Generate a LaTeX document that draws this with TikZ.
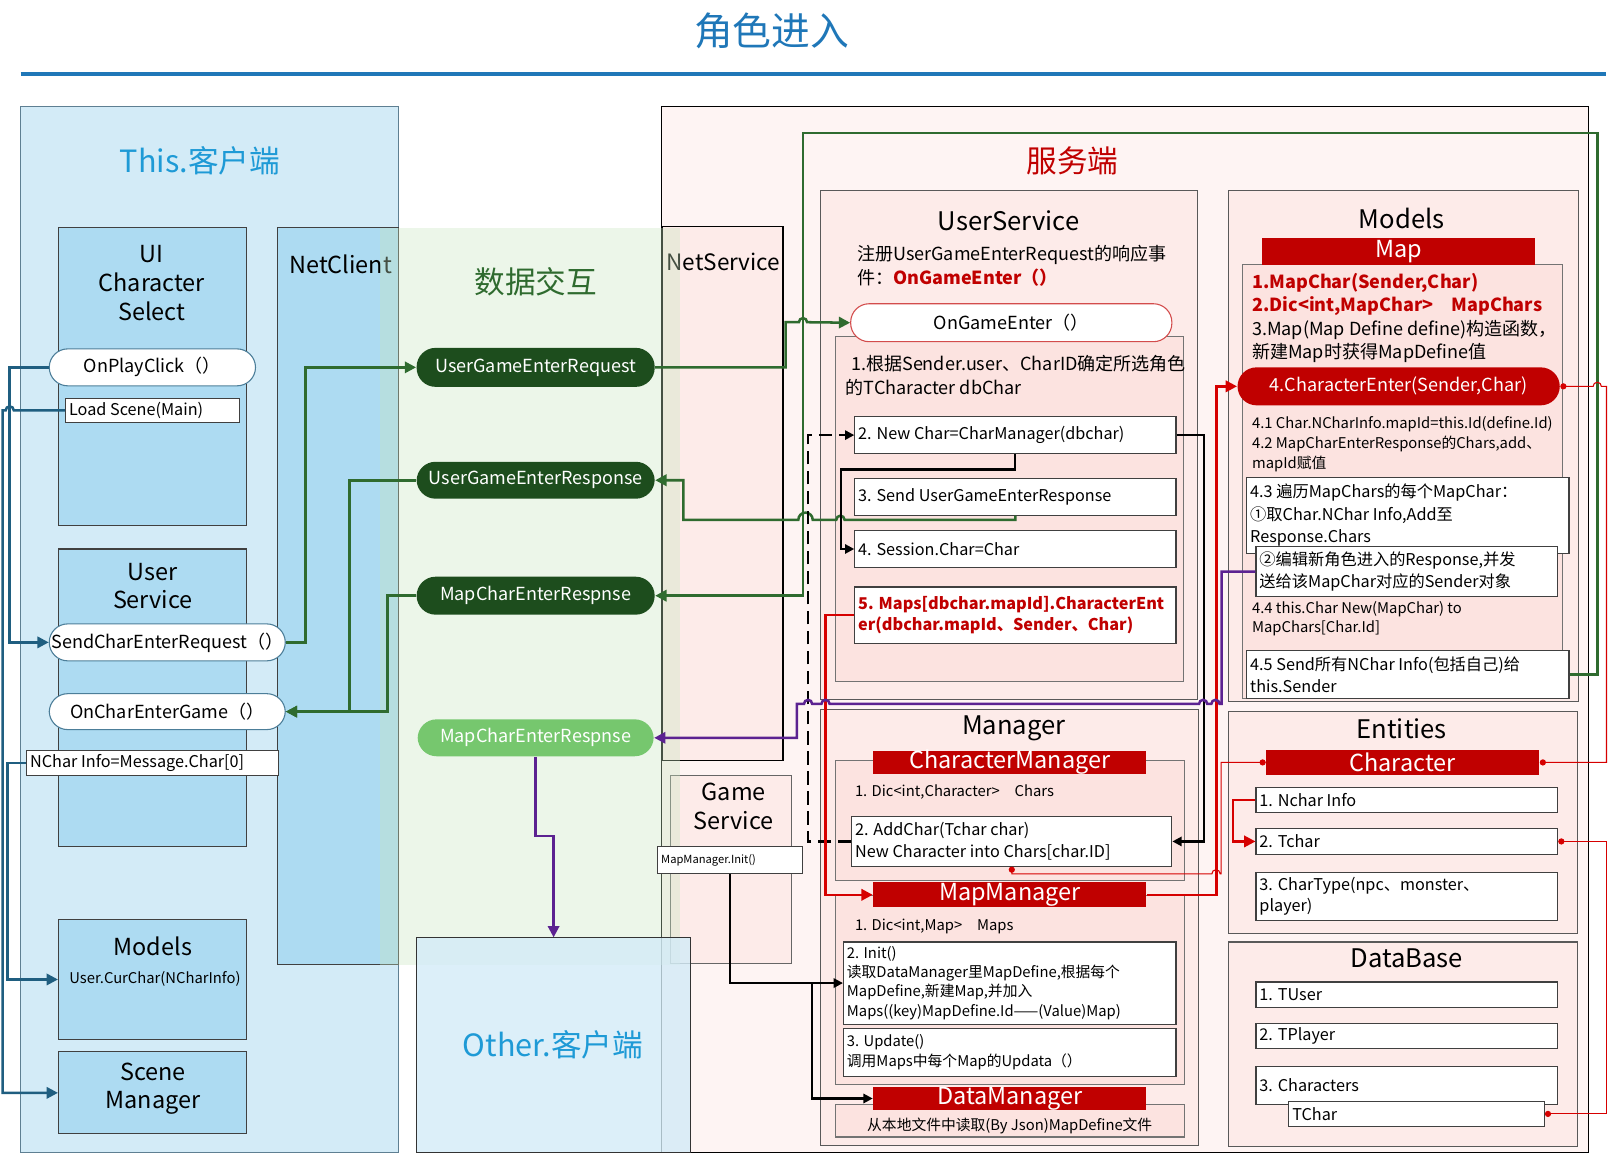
\documentclass[tikz,border=0pt]{standalone}
\usepackage{fontspec}
\setmainfont{Noto Sans CJK SC}
\usepackage{tikz}
\usetikzlibrary{arrows.meta, fit}
\usepackage{xcolor}

\definecolor{titleBlue}{HTML}{1F77B8}
\definecolor{cliPanel}{HTML}{D3EBF7}
\definecolor{cliBox}{HTML}{ADDBF2}
\definecolor{cliBorder}{HTML}{5E7F92}
\definecolor{cliTitle}{HTML}{1E9AD6}
\definecolor{cliLine}{HTML}{1F5E80}
\definecolor{srvPanel}{HTML}{FEF4F3}
\definecolor{srvBox}{HTML}{FDEBE9}
\definecolor{srvInner}{HTML}{FCE3E0}
\definecolor{srvRed}{HTML}{C00000}
\definecolor{lineRed}{HTML}{D60000}
\definecolor{msgDark}{HTML}{1D4D1D}
\definecolor{msgLight}{HTML}{76C76E}
\definecolor{msgLine}{HTML}{2F6B2F}
\definecolor{netGreen}{HTML}{C8E6C0}
\definecolor{bcast}{HTML}{5C2291}

\newcommand{\fsTitle}{\fontsize{21.5pt}{24pt}\selectfont}
\newcommand{\fsBig}{\fontsize{17pt}{20pt}\selectfont}
\newcommand{\fsHead}{\fontsize{14.2pt}{17pt}\selectfont}
\newcommand{\fsMid}{\fontsize{13pt}{15.9pt}\selectfont}
\newcommand{\fsPill}{\fontsize{10pt}{12pt}\selectfont}
\newcommand{\fsCode}{\fontsize{9pt}{12pt}\selectfont}
\newcommand{\fsSmall}{\fontsize{8.2pt}{10.6pt}\selectfont}
\newcommand{\fsTiny}{\fontsize{6.2pt}{7pt}\selectfont}

\begin{document}
\begin{tikzpicture}[
    x=0.02cm,y=-0.02cm,>={Triangle[length=2.2mm,width=2.2mm]},
    box/.style={draw,inner sep=0pt,line width=0.6pt},
    clibox/.style={box,draw=black!75,fill=cliBox},
    srvbox/.style={box,draw=black!55,fill=srvBox},
    codebox/.style={box,draw=black!75,fill=white},
    pill/.style={box,fill=white,rounded corners=0.36cm},
    msgpill/.style={box,draw=none,fill=msgDark,rounded corners=0.37cm},
    redbar/.style={box,draw=none,fill=srvRed},
    pilltext/.style={label={[font=\fsPill]center:{#1}}},
    msgtext/.style={label={[font=\fsPill,text=white]center:{#1}}},
    bartext/.style={label={[font=\fsMid,text=white]center:{#1}}},
    codetext/.style={anchor=west,align=left,font=\fsCode,inner sep=2pt},
    clilink/.style={->,cliLine,line width=1.4pt},
    msglink/.style={->,msgLine,line width=1.4pt},
    calllink/.style={-{Triangle[length=1.8mm,width=1.8mm]},black,line width=1.2pt},
    redlink/.style={->,lineRed,line width=1.4pt},
    reflink/.style={{Circle[length=1.2mm]}-{Circle[length=1.2mm]},lineRed,line width=0.6pt},
    bcastlink/.style={->,bcast,line width=1.4pt}
]
\useasboundingbox (0,0) rectangle (1568,1125);
% Title and rule.
\node[font=\fsTitle,text=titleBlue] (title) at (752,30) {角色进入};
\draw[titleBlue,line width=2.2pt] (20,72) -- (1565,72);

% This client.
\node[box,draw=cliBorder,fill=cliPanel,fit={(20,104) (388,1123)}] (thisCli) {};
\node[font=\fsBig,text=cliTitle] at (195,157) {This.客户端};
\node[clibox,fit={(57,222) (240,512)}] (uiSel) {};
\node[align=center,font=\fsMid] at (148,276) {UI\\Character\\Select};
\node[clibox,fit={(270,222) (388,940)}] (netClient) {};
\node[font=\fsMid] at (332,258) {NetClient};
\node[clibox,fit={(57,535) (240,825)}] (cliUser) {};
\node[align=center,font=\fsMid] at (149,571) {User\\Service};
\node[clibox,fit={(57,896) (240,1013)}] (cliModels) {};
\node[font=\fsMid] at (149,922) {Models};
\node[font=\fsSmall] at (151,954) {User.CurChar(NCharInfo)};
\node[clibox,fit={(57,1025) (240,1105)}] (sceneMgr) {};
\node[align=center,font=\fsMid] at (149,1061) {Scene\\Manager};
\node[pill,draw=cliLine!80,fit={(48,340) (249,376)},pilltext=OnPlayClick（）] (playClick) {};
\node[codebox,fit={(64,388) (233,412)}] (loadScene) {};
\node[codetext] at (loadScene.west) {Load Scene(Main)};
\node[pill,draw=cliLine!80,fit={(48,608) (278,644)},pilltext=SendCharEnterRequest（）] (sendReq) {};
\node[pill,draw=cliLine!80,fit={(48,676) (278,711)},pilltext=OnCharEnterGame（）] (charEnterGame) {};
\node[codebox,fit={(26,731) (271,756)}] (ncharBox) {};
\node[codetext] at (ncharBox.west) {NChar Info=Message.Char[0]};

% Server panel, net service, game service.
\node[box,draw=black,fill=srvPanel,fit={(645,104) (1548,1123)}] (srvPanel) {};
\node[srvbox,draw=black,fit={(646,221) (763,741)}] (netService) {};
\node[font=\fontsize{12.5pt}{15pt}\selectfont] at (705,255) {NetService};
\node[srvbox,draw=black!60,fit={(653,756) (771,939)}] (gameService) {};
\node[align=center,font=\fsMid] at (715,786) {Game\\Service};

% Message area.
\node[inner sep=0pt,fill=netGreen,fill opacity=0.35,fit={(370,222) (663,940)}] (netArea) {};
\node[font=\fsBig,text=msgLine] at (522,275) {数据交互};
\node[msgpill,fit={(406,339) (638,377)},msgtext=UserGameEnterRequest] (ugeReq) {};
\node[msgpill,fit={(406,450) (638,486)},msgtext=UserGameEnterResponse] (ugeResp) {};
\node[msgpill,fit={(406,562) (638,599)},msgtext=MapCharEnterRespnse] (mceResp) {};
\node[msgpill,fill=msgLight,fit={(407,701) (637,737)},msgtext=MapCharEnterRespnse] (mceLight) {};

% Other client.
\node[box,draw=black!80,fill=cliPanel,fill opacity=0.8,fit={(406,914) (673,1123)}] (otherCli) {};
\node[font=\fsBig,text=cliTitle] at (539,1018) {Other.客户端};
\node[codebox,fit={(641,825) (782,851)}] (mapInit) {};
\node[codetext,font=\fsTiny] at (mapInit.west) {MapManager.Init()};

\node[font=\fsBig,text=srvRed] at (1045,157) {服务端};

% UserService.
\node[srvbox,draw=black!65,fit={(800,186) (1167,682)}] (userSvc) {};
\node[font=\fsHead] at (983,215) {UserService};
\node[anchor=west,align=left,font=\fontsize{10pt}{13.6pt}\selectfont] at (829,259)
    {注册UserGameEnterRequest的响应事\\件：\textcolor{srvRed}{\bfseries OnGameEnter（）}};
\node[srvbox,fill=srvInner,fit={(814,328) (1153,664)}] (gameEnterBody) {};
\node[pill,draw=srvRed!70,fit={(829,296) (1142,333)},pilltext=OnGameEnter（）] (onGameEnter) {};
\node[anchor=west,align=left,font=\fontsize{10pt}{13pt}\selectfont] at (818,366)
    {\hspace{3pt}1.根据Sender.user、CharID确定所选角色\\的TCharacter dbChar};
\node[codebox,fit={(833,406) (1146,442)}] (newChar) {};
\node[codetext] at (newChar.west) {2. New Char=CharManager(dbchar)};
\node[codebox,fit={(833,466) (1146,502)}] (sendResp) {};
\node[codetext] at (sendResp.west) {3. Send UserGameEnterResponse};
\node[codebox,fit={(833,517) (1146,553)}] (setSession) {};
\node[codetext] at (setSession.west) {4. Session.Char=Char};
\node[codebox,fit={(833,572) (1146,627)}] (mapsEnter) {};
\node[codetext,text=srvRed,font=\fsCode\bfseries] at (mapsEnter.west)
    {5. Maps[dbchar.mapId].CharacterEnt\\er(dbchar.mapId、Sender、Char)};

% Models.
\node[srvbox,draw=black!65,fit={(1197,186) (1538,684)}] (srvModels) {};
\node[font=\fsHead] at (1366,213) {Models};
\node[srvbox,fill=srvInner,fit={(1211,258) (1523,681)}] (mapBody) {};
\node[redbar,fit={(1230,232) (1496,258)},bartext=Map] (mapBar) {};
\node[anchor=west,align=left,font=\fontsize{10pt}{12.9pt}\selectfont] at (1214,310)
    {\textcolor{srvRed}{\bfseries 1.MapChar(Sender,Char)}\\
     \textcolor{srvRed}{\bfseries 2.Dic<int,MapChar>\quad MapChars}\\
     3.Map(Map Define define)构造函数，\\新建Map时获得MapDefine值};
\node[pill,draw=none,fill=srvRed,rounded corners=0.37cm,fit={(1206,358) (1520,395)},
    msgtext={4.CharacterEnter(Sender,Char)}] (charEnter) {};
\node[anchor=west,align=left,font=\fontsize{8.2pt}{11pt}\selectfont] at (1214,433)
    {4.1 Char.NCharInfo.mapId=this.Id(define.Id)\\4.2 MapCharEnterResponse的Chars,add、\\mapId赋值};
\node[codebox,fit={(1215,465) (1529,539)}] (loopBox) {};
\node[codetext,font=\fontsize{9pt}{12.5pt}\selectfont] at (loopBox.west)
    {4.3 遍历MapChars的每个MapChar：\\①取Char.NChar Info,Add至\\Response.Chars};
\node[codebox,fit={(1224,533) (1518,581)}] (editResp) {};
\node[codetext,font=\fontsize{9pt}{11.9pt}\selectfont] at (editResp.west)
    {②编辑新角色进入的Response,并发\\送给该MapChar对应的Sender对象};
\node[anchor=west,align=left,font=\fontsize{8.2pt}{10.2pt}\selectfont] at (1214,603)
    {4.4 this.Char New(MapChar) to\\MapChars[Char.Id]};
\node[codebox,fit={(1215,634) (1529,681)}] (sendAll) {};
\node[codetext] at (sendAll.west) {4.5 Send所有NChar Info(包括自己)给\\this.Sender};

% Manager.
\node[srvbox,draw=black!65,fit={(800,691) (1168,1116)}] (manager) {};
\node[font=\fsHead] at (988,710) {Manager};
\node[srvbox,fill=srvInner,fit={(814,741) (1154,858)}] (charMgrBody) {};
\node[redbar,fit={(851,732) (1117,754)},bartext=CharacterManager] (charMgrBar) {};
\node[anchor=west,font=\fsSmall] at (827,772) {1. Dic<int,Character>\quad Chars};
\node[codebox,fit={(830,796) (1142,844)}] (addChar) {};
\node[codetext] at (addChar.west) {2. AddChar(Tchar char)\\New Character into Chars[char.ID]};
\node[srvbox,fill=srvInner,fit={(814,873) (1154,1057)}] (mapMgrBody) {};
\node[redbar,fit={(851,860) (1117,884)},bartext=MapManager] (mapMgr) {};
\node[anchor=west,font=\fsSmall] at (827,903) {1. Dic<int,Map>\quad Maps};
\node[codebox,fit={(822,918) (1146,998)}] (initBox) {};
\node[codetext,font=\fsSmall] at (initBox.west)
    {2. Init()\\读取DataManager里MapDefine,根据每个\\MapDefine,新建Map,并加入\\Maps((key)MapDefine.Id——(Value)Map)};
\node[codebox,fit={(822,1002) (1146,1049)}] (updateBox) {};
\node[codetext,font=\fontsize{8.2pt}{11.3pt}\selectfont] at (updateBox.west)
    {3. Update()\\调用Maps中每个Map的Updata（）};
\node[srvbox,fill=srvInner,fit={(814,1076) (1154,1108)}] (dataMgrBody) {};
\node[redbar,fit={(851,1059) (1117,1082)},bartext=DataManager] (dataMgr) {};
\node[font=\fsSmall] at (984,1097) {从本地文件中读取(By Json)MapDefine文件};

% Entities and DataBase.
\node[srvbox,draw=black!65,fit={(1197,693) (1537,910)}] (entities) {};
\node[font=\fsHead] at (1366,710) {Entities};
\node[redbar,fit={(1234,731) (1500,755)},bartext=Character] (charBar) {};
\node[codebox,fit={(1224,767) (1518,792)}] (ncharInfo) {};
\node[codetext] at (ncharInfo.west) {1. Nchar Info};
\node[codebox,fit={(1224,807) (1518,833)}] (tcharBox) {};
\node[codetext] at (tcharBox.west) {2. Tchar};
\node[codebox,fit={(1224,850) (1518,897)}] (charType) {};
\node[codetext] at (charType.west) {3. CharType(npc、monster、\\player)};
\node[srvbox,draw=black!65,fit={(1197,918) (1537,1117)}] (database) {};
\node[font=\fsHead] at (1371,934) {DataBase};
\node[codebox,fit={(1224,957) (1518,982)}] (tUser) {};
\node[codetext] at (tUser.west) {1. TUser};
\node[codebox,fit={(1224,997) (1518,1022)}] (tPlayer) {};
\node[codetext] at (tPlayer.west) {2. TPlayer};
\node[codebox,fit={(1224,1039) (1518,1076)}] (tChars) {};
\node[codetext] at (tChars.west) {3. Characters};
\node[codebox,fit={(1256,1073) (1505,1098)}] (tCharDb) {};
\node[codetext] at (tCharDb.west) {TChar};

% Client side links.
\draw[clilink] (playClick.west) -- ++(-38,0) |- (sendReq.west);
\draw[clilink] (loadScene.west) -- ++(-50,0) arc[start angle=0,end angle=-180,radius=4]
    -- ++(-3,0) |- (sceneMgr.west);
\draw[clilink] (ncharBox.west) -- ++(-18,0) |- (cliModels.west);

% Message links.
\draw[msglink] (sendReq.east) -- ++(19,0) |- (ugeReq.west);
\draw[msglink] (ugeResp.west) -- ++(-65,0) |- (charEnterGame.east);
\draw[msglink] (mceResp.west) -- ++(-28,0) |- (charEnterGame.east);
\draw[msglink] (ugeReq.east) -- ++(127,0) -- ++(0,-44) -- ++(13,0)
    arc[start angle=180,end angle=360,radius=4] -- (onGameEnter.west);
\draw[msglink] (sendResp.south) -- ++(0,4) -- ++(-166.5,0) arc[start angle=0,end angle=-180,radius=4]
    -- ++(-23,0) arc[start angle=0,end angle=-180,radius=7] -- ++(-112,0) |- (ugeResp.east);
\draw[msglink] (sendAll.east) -- ++(27,0) -- ++(0,-528) -- ++(-774,0) |- (mceResp.east);

% Calls inside the server.
\draw[calllink,dash pattern=on 2.6mm off 1.3mm] (addChar.west) -- ++(-42,0) |- (newChar.west);
\draw[calllink] (newChar.south) -- ++(0,15) -- ++(-170,0) |- (setSession.west);
\draw[calllink] (newChar.east) -- ++(27,0) |- (addChar.east);
\draw[calllink] (mapInit.south) |- (initBox.west);
\path (initBox.west) ++(-30,0) coordinate (initFork);
\draw[calllink] (initFork) |- (dataMgr.west);
\draw[redlink] (mapsEnter.west) -- ++(-28,0) |- (mapMgr.west);
\draw[redlink] (mapMgr.east) -- ++(68,0) |- (charEnter.west);
\draw[redlink] (ncharInfo.west) -- ++(-22,0) |- (tcharBox.west);

% References between models and entities.
\draw[reflink] (addChar.south) -- ++(0,7) -- ++(195,0) arc[start angle=180,end angle=360,radius=4]
    -- ++(1,0) |- (charBar.west);
\draw[reflink] (charEnter.east) -- ++(32,0) arc[start angle=180,end angle=360,radius=4]
    -- ++(5,0) |- (charBar.east);
\draw[reflink] (tcharBox.east) -- ++(47,0) |- (tCharDb.east);

% Broadcast to the other client.
\draw[bcastlink] (editResp.west) -- ++(-33,0) -- ++(0,129)
    -- ++(-2,0) arc[start angle=0,end angle=-180,radius=4]
    -- ++(-4,0) arc[start angle=0,end angle=-180,radius=4]
    -- ++(-360,0) arc[start angle=0,end angle=-180,radius=4]
    -- ++(-9,0) arc[start angle=0,end angle=-180,radius=4]
    -- ++(-7,0) |- (mceLight.east);
\draw[bcastlink] (mceLight.south) -- ++(0,77) -| (otherCli.north);
\end{tikzpicture}
\end{document}
